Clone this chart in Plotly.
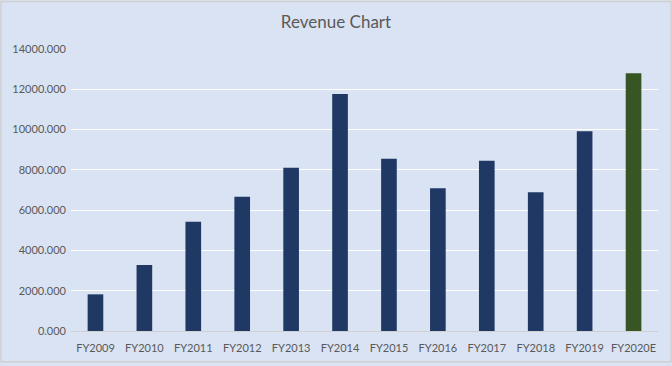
import plotly.graph_objects as go

categories = ["FY2009", "FY2010", "FY2011", "FY2012", "FY2013", "FY2014",
              "FY2015", "FY2016", "FY2017", "FY2018", "FY2019", "FY2020E"]
revenue = [1820, 3280, 5420, 6670, 8100, 11770, 8550, 7090, 8450, 6890, 9920, 12800]
bar_colors = ["#1F3864"] * 11 + ["#375623"]
y_ticks = [0, 2000, 4000, 6000, 8000, 10000, 12000, 14000]

fig = go.Figure()
fig.add_trace(go.Bar(
    x=categories, y=revenue, marker=dict(color=bar_colors, line=dict(width=0)),
    width=0.32,
))

font_family = "Lato, Carlito, Calibri, sans-serif"
fig.update_layout(
    width=672, height=366,
    margin=dict(l=71, r=14, t=49, b=32),
    paper_bgcolor="#DAE3F3", plot_bgcolor="#DAE3F3",
    title=dict(text="Revenue Chart", x=0.5, xanchor="center", y=0.94, yanchor="middle",
               font=dict(family=font_family, size=17, color="#595959")),
    font=dict(family=font_family, size=11, color="#595959"),
    showlegend=False,
    xaxis=dict(showgrid=False, showline=True, linecolor="#D0D0D0", linewidth=1,
               ticks="", ticklabelstandoff=7,
               tickfont=dict(size=11, color="#595959"), fixedrange=True),
    yaxis=dict(range=[0, 14000], tickvals=y_ticks, tickformat=".3f",
               showgrid=True, gridcolor="#FFFFFF", gridwidth=1.3, zeroline=False,
               showline=False, ticks="", ticklabelstandoff=4,
               tickfont=dict(size=11, color="#595959")),
    shapes=[dict(type="rect", xref="paper", yref="paper", x0=-70/587, x1=1+13/587,
                 y0=-31/285, y1=1+48/285, line=dict(color="#D0D0D0", width=1.5))],
)

fig.write_html("out.html", config={"displayModeBar": False},
               post_script="document.body.style.margin='0';document.body.style.overflow='hidden';")
